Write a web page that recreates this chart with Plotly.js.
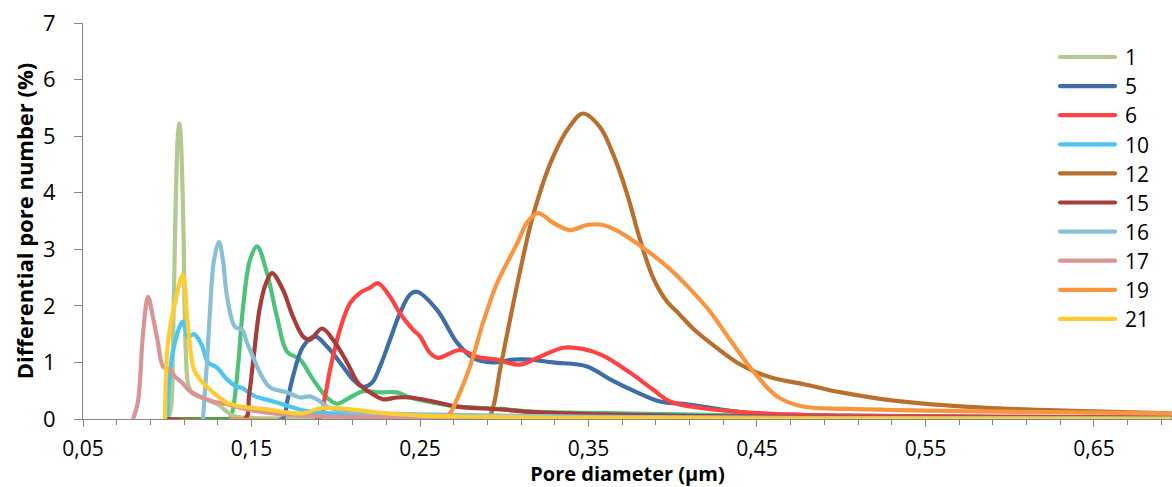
<!DOCTYPE html>
<html>
<head>
<meta charset="utf-8">
<script src="https://cdn.plot.ly/plotly-3.0.1.min.js"></script>
<style>html,body{margin:0;padding:0;background:#fff;}#chart{width:1172px;height:487px;}</style>
</head>
<body>
<div id="chart"></div>
<script>
// Series names (legend)
const seriesNames = ["1","5","6","10","12","15","16","17","19","21"];

// Pore diameter (µm) / differential pore number (%) per sample
const x1 = [0.100,0.102,0.1035,0.105,0.1065,0.1072,0.108,0.1095,0.111,0.1125,0.115,0.120,0.125,0.130,0.135,0.140,0.150,0.200,0.696];
const y1 = [0,0.15,1.5,3.8,5.1,5.22,5.0,3.5,1.2,0.6,0.45,0.38,0.32,0.26,0.14,0.05,0.02,0.01,0];

const x5 = [0.100,0.1681,0.1711,0.1746,0.1806,0.1877,0.1948,0.2025,0.2102,0.2162,0.2215,0.2263,0.2322,0.2381,0.2441,0.2482,0.2601,0.272,0.2815,0.2933,0.3052,0.3153,0.3289,0.3491,0.3628,0.3788,0.3924,0.4085,0.428,0.4476,0.5052,0.5942,0.696];
const y5 = [0,0,0.3,0.75,1.28,1.46,1.28,1.0,0.7,0.57,0.64,0.93,1.4,1.87,2.2,2.25,1.93,1.35,1.08,1.0,1.05,1.05,1.0,0.93,0.7,0.47,0.31,0.26,0.17,0.1,0.06,0.04,0.02];

const x6 = [0.100,0.1895,0.1936,0.1966,0.2025,0.2085,0.2144,0.2203,0.2251,0.2322,0.2381,0.2458,0.25,0.2559,0.2607,0.2737,0.2838,0.2957,0.3093,0.3212,0.3349,0.3467,0.3586,0.3746,0.3883,0.3984,0.418,0.4476,0.4815,0.5942,0.696];
const y6 = [0,0,0.4,0.87,1.58,2.05,2.23,2.32,2.4,2.16,1.87,1.58,1.46,1.17,1.08,1.22,1.1,1.05,0.96,1.1,1.26,1.24,1.12,0.82,0.52,0.31,0.19,0.11,0.07,0.04,0.02];

const x10 = [0.0999,0.1034,0.1093,0.1123,0.1159,0.1206,0.1242,0.1295,0.1355,0.1414,0.1444,0.1509,0.1628,0.1728,0.1829,0.2025,0.2381,0.2975,0.416,0.696];
const y10 = [0,1.2,1.72,1.45,1.5,1.3,1.0,0.91,0.7,0.57,0.55,0.42,0.31,0.22,0.14,0.09,0.06,0.04,0.02,0.01];

const x12 = [0.100,0.2898,0.2933,0.2975,0.3034,0.3093,0.3171,0.3289,0.339,0.3467,0.3568,0.3645,0.3728,0.3806,0.3883,0.3960,0.4040,0.4120,0.4221,0.4381,0.4518,0.4600,0.4800,0.5000,0.5300,0.5841,0.6435,0.696];
const y12 = [0,0,0.2,0.87,1.75,2.6,3.6,4.63,5.18,5.4,5.16,4.69,3.99,3.17,2.5,2.1,1.85,1.6,1.35,1.0,0.8,0.72,0.6,0.47,0.33,0.2,0.14,0.1];

const x15 = [0.100,0.1461,0.1485,0.1509,0.155,0.1586,0.1622,0.1687,0.1746,0.1806,0.1847,0.1918,0.1984,0.2067,0.2132,0.2203,0.228,0.2363,0.2441,0.2577,0.272,0.2975,0.3171,0.3568,0.4162,0.5349,0.696];
const y15 = [0,0,0.4,1.0,1.98,2.4,2.58,2.28,1.81,1.46,1.4,1.6,1.4,1.0,0.64,0.47,0.35,0.38,0.38,0.31,0.22,0.17,0.12,0.08,0.05,0.03,0.02];

const x16 = [0.1212,0.1236,0.1254,0.1277,0.1307,0.1331,0.1355,0.1402,0.1444,0.1473,0.1509,0.155,0.161,0.1711,0.1788,0.1847,0.1907,0.1948,0.2067,0.2263,0.25,0.2975,0.3568,0.4755,0.696];
const y16 = [0,1.0,1.93,2.8,3.13,2.8,2.16,1.63,1.58,1.35,1.1,0.82,0.56,0.47,0.38,0.4,0.31,0.22,0.13,0.1,0.08,0.06,0.04,0.02,0.01];

const x17 = [0.0797,0.0826,0.0856,0.0886,0.0915,0.0945,0.0975,0.1016,0.1046,0.1088,0.1135,0.1194,0.1272,0.1355,0.1432,0.155,0.17,0.19,0.226,0.30,0.696];
const y17 = [0,0.3,1.5,2.16,1.8,1.35,0.93,0.87,0.75,0.64,0.49,0.4,0.31,0.26,0.2,0.13,0.08,0.05,0.03,0.01,0];

const x19 = [0.1372,0.2636,0.2678,0.272,0.2797,0.2874,0.2957,0.3076,0.3135,0.32,0.3289,0.339,0.3491,0.3586,0.3687,0.3823,0.3984,0.4102,0.4221,0.434,0.4476,0.4619,0.4773,0.5052,0.5942,0.696];
const y19 = [0,0,0.1,0.35,0.93,1.7,2.4,3.1,3.47,3.64,3.47,3.34,3.43,3.43,3.3,3.03,2.65,2.3,1.9,1.4,0.85,0.4,0.22,0.18,0.13,0.1];

const x21 = [0.0987,0.1004,0.1046,0.1092,0.1123,0.1159,0.1194,0.1272,0.1355,0.1432,0.1568,0.1728,0.1806,0.1907,0.2025,0.2263,0.25,0.2856,0.333,0.416,0.696];
const y21 = [0,1.35,2.05,2.55,1.63,0.87,0.7,0.47,0.29,0.22,0.18,0.11,0.1,0.19,0.19,0.11,0.06,0.04,0.02,0.01,0];

// Two further samples drawn in the chart but not listed in the legend
const xGreen = [0.1372,0.139,0.142,0.145,0.1491,0.1533,0.1592,0.1651,0.1711,0.1788,0.1865,0.1948,0.2007,0.2085,0.2162,0.2263,0.2363,0.2441,0.2577,0.272,0.2975,0.3171,0.3687,0.4458,0.5942,0.696];
const yGreen = [0,0.17,0.93,1.98,2.81,3.05,2.58,1.81,1.19,1.05,0.7,0.38,0.27,0.38,0.49,0.47,0.47,0.38,0.29,0.22,0.18,0.13,0.1,0.06,0.03,0.02];
const xDarkGreen = [0.100,0.696];
const yDarkGreen = [0,0];

const colors = {"1":"#b2c98f","5":"#3f6ea6","6":"#ff4343","10":"#4dc6f2","12":"#b8702f","15":"#a63d3a","16":"#8ac0d6","17":"#d99594","19":"#f8953e","21":"#ffcc33",green:"#4cc27a",darkgreen:"#4aa63d"};

const FONT = "'Open Sans', 'Noto Sans', sans-serif";

function tr(name, x, y, color, show) {
  return {
    type: "scatter", mode: "lines", name: name, x: x, y: y,
    showlegend: show,
    line: {color: color, width: 4.2, shape: "spline", smoothing: 1},
    hoverinfo: "skip"
  };
}

const dataSets = {"1":[x1,y1],"5":[x5,y5],"6":[x6,y6],"10":[x10,y10],"12":[x12,y12],"15":[x15,y15],"16":[x16,y16],"17":[x17,y17],"19":[x19,y19],"21":[x21,y21]};

const traces = [
  tr("22", xDarkGreen, yDarkGreen, colors.darkgreen, false),
  tr("23", xGreen, yGreen, colors.green, false)
];
seriesNames.forEach(n => traces.push(tr(n, dataSets[n][0], dataSets[n][1], colors[n], true)));

const layout = {
  width: 1172, height: 487,
  margin: {l: 83, r: 0, t: 23, b: 67.5, pad: 0},
  paper_bgcolor: "#fff", plot_bgcolor: "#fff",
  separators: ", ",
  font: {family: FONT, size: 21, color: "#000"},
  showlegend: true,
  legend: {
    x: 0.8926, y: 0.965, xanchor: "left", yanchor: "top",
    bgcolor: "rgba(0,0,0,0)", borderwidth: 0,
    font: {family: FONT, size: 21, color: "#000"},
    itemwidth: 60, tracegroupgap: 0
  },
  xaxis: {
    range: [0.05, 0.6963], tick0: 0.05, dtick: 0.1, tickformat: ".2f",
    showgrid: false, zeroline: false,
    showline: true, linecolor: "#868686", linewidth: 1,
    ticks: "outside", ticklen: 7, tickcolor: "#868686", tickwidth: 1,
    ticklabelstandoff: 4,
    minor: {tick0: 0.05, dtick: 0.02, ticks: "outside", ticklen: 5, tickcolor: "#868686", tickwidth: 1, showgrid: false},
    tickfont: {family: FONT, size: 21, color: "#000"},
    title: {text: "Pore diameter (µm)", font: {family: FONT, size: 20, color: "#000", weight: "bold"}, standoff: 8}
  },
  yaxis: {
    range: [0, 7], dtick: 1, tick0: 0,
    showgrid: false, zeroline: false,
    showline: true, linecolor: "#868686", linewidth: 1,
    ticks: "outside", ticklen: 8, tickcolor: "#868686", tickwidth: 1,
    ticklabelstandoff: 14,
    tickfont: {family: FONT, size: 22, color: "#000"},
    title: {text: "Differential pore number (%)", font: {family: FONT, size: 22, color: "#000", weight: "bold"}, standoff: 3}
  }
};

Plotly.newPlot("chart", traces, layout, {staticPlot: true, displayModeBar: false}).then(function (gd) {
  // Legend styling: longer round-capped sample lines and Excel-like row spacing
  const items = gd.querySelectorAll(".legend .traces");
  let y0 = null;
  items.forEach(function (g, i) {
    const m = /translate\(([-\d.]+),\s*([-\d.]+)\)/.exec(g.getAttribute("transform") || "");
    if (m) {
      if (y0 === null) y0 = parseFloat(m[2]);
      g.setAttribute("transform", "translate(" + m[1] + "," + (y0 + i * 29.1) + ")");
    }
    g.querySelectorAll(".legendlines path").forEach(function (p) {
      p.setAttribute("d", "M5,0h55");
      p.style.strokeLinecap = "round";
    });
  });
});
</script>
</body>
</html>
